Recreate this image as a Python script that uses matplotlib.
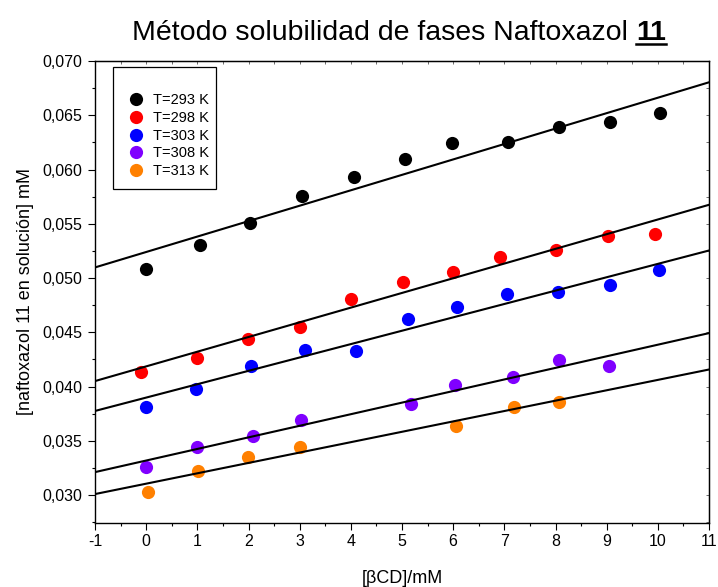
import numpy as np
import matplotlib
matplotlib.use('Agg')
import matplotlib.pyplot as plt
from matplotlib.ticker import MultipleLocator, FuncFormatter
from matplotlib.patches import Rectangle
from matplotlib.lines import Line2D

plt.rcParams['font.family'] = ['Liberation Sans', 'DejaVu Sans']

labels = ['T=293 K', 'T=298 K', 'T=303 K', 'T=308 K', 'T=313 K']
colors = ['#000000', '#ff0000', '#0000ff', '#8000ff', '#ff8000']

x_293 = [0.0, 1.05, 2.02, 3.04, 4.07, 5.05, 5.97, 7.08, 8.06, 9.06, 10.04]
y_293 = [0.0508, 0.0530, 0.0551, 0.0576, 0.0593, 0.0610, 0.0624, 0.0625, 0.0639, 0.0644, 0.0652]

x_298 = [-0.1, 1.0, 1.99, 3.0, 4.0, 5.02, 6.0, 6.92, 8.0, 9.03, 9.94]
y_298 = [0.0413, 0.0426, 0.0444, 0.0455, 0.0481, 0.0496, 0.0506, 0.0519, 0.0526, 0.0539, 0.0541]

x_303 = [-0.01, 0.97, 2.04, 3.11, 4.1, 5.11, 6.08, 7.05, 8.05, 9.07, 10.03]
y_303 = [0.0381, 0.0398, 0.0419, 0.0434, 0.0433, 0.0462, 0.0473, 0.0485, 0.0487, 0.0494, 0.0507]

x_308 = [0.0, 0.99, 2.09, 3.02, 5.17, 6.04, 7.16, 8.07, 9.04]
y_308 = [0.0326, 0.0344, 0.0354, 0.0369, 0.0384, 0.0401, 0.0409, 0.0424, 0.0419]

x_313 = [0.04, 1.02, 1.99, 3.01, 6.05, 7.19, 8.07]
y_313 = [0.0303, 0.0322, 0.0335, 0.0344, 0.0364, 0.0381, 0.0386]

series_x = [x_293, x_298, x_303, x_308, x_313]
series_y = [y_293, y_298, y_303, y_308, y_313]

x_range = [-1, 11]
y_range = [0.02745, 0.070]


def fmt_y(v, pos):
    return f'{v:.3f}'.replace('.', ',')


def fmt_x(v, pos):
    return f'{v:g}'


def draw_title(fig, y):
    renderer = fig.canvas.get_renderer()
    fs = 20.5
    t1 = fig.text(0, y, 'Método solubilidad de fases Naftoxazol', fontsize=fs,
                  ha='left', va='baseline')
    t2 = fig.text(0, y, '11', fontsize=fs, fontweight='bold', ha='left', va='baseline')
    w1 = t1.get_window_extent(renderer).width
    w2 = t2.get_window_extent(renderer).width
    wa = fig.text(0, 0, 'a a', fontsize=fs).get_window_extent(renderer).width
    wb = fig.text(0, 0, 'aa', fontsize=fs).get_window_extent(renderer).width
    ws = wa - wb
    fig.texts = [t1, t2]
    W = fig.bbox.width
    center = 399 / W
    total = (w1 + ws + w2) / W
    x0 = center - total / 2
    t1.set_x(x0)
    x2 = x0 + (w1 + ws) / W
    t2.set_x(x2)
    uy = y - 4 / fig.bbox.height
    fig.add_artist(Line2D([x2, x2 + w2 / W], [uy, uy], color='black', lw=1.8,
                          transform=fig.transFigure))


def main():
    fig = plt.figure(figsize=(7.18, 5.87), dpi=100)
    ax = fig.add_axes([95 / 718, 1 - 522.7 / 587, 614 / 718, 461.7 / 587])

    for xs, ys, c, lab in zip(series_x, series_y, colors, labels):
        ax.plot(xs, ys, 'o', color=c, markersize=9.5, markeredgewidth=0, label=lab, zorder=2)
        k, b = np.polyfit(xs, ys, 1)
        xx = np.array(x_range, dtype=float)
        ax.plot(xx, k * xx + b, color='black', lw=1.5, zorder=3)

    ax.set_xlim(x_range)
    ax.set_ylim(y_range)
    ax.xaxis.set_major_locator(MultipleLocator(1))
    ax.xaxis.set_minor_locator(MultipleLocator(0.5))
    ax.yaxis.set_major_locator(MultipleLocator(0.005))
    ax.yaxis.set_minor_locator(MultipleLocator(0.0025))
    ax.xaxis.set_major_formatter(FuncFormatter(fmt_x))
    ax.yaxis.set_major_formatter(FuncFormatter(fmt_y))
    ax.tick_params(which='major', direction='out', length=4.8, width=0.8, labelsize=11.5)
    ax.tick_params(which='minor', direction='out', length=2.4, width=0.8)
    ax.tick_params(axis='x', which='major', pad=3.5)
    ax.tick_params(axis='y', which='major', pad=4.5)
    for s in ax.spines.values():
        s.set_linewidth(1.0)

    top = ax.secondary_xaxis('top')
    top.xaxis.set_major_locator(MultipleLocator(0.5))
    top.tick_params(direction='in', length=2.5, width=0.6, labeltop=False, color='#555555')
    right = ax.secondary_yaxis('right')
    right.yaxis.set_major_locator(MultipleLocator(0.0025))
    right.tick_params(direction='in', length=2.5, width=0.6, labelright=False, color='#555555')

    ax.set_xlabel('[βCD]/mM', fontsize=13, labelpad=15)
    ax.set_ylabel('[naftoxazol 11 en solución] mM', fontsize=13, labelpad=6)

    ax.legend(loc='upper left', bbox_to_anchor=(129 / 718, 1 - 93.5 / 587),
              bbox_transform=fig.transFigure, frameon=False, fontsize=10.5,
              handlelength=1.0, handletextpad=0.62, labelspacing=0.25,
              borderpad=0, borderaxespad=0)
    fig.add_artist(Rectangle((113 / 718, 1 - 189 / 587), 103 / 718, 122 / 587,
                             transform=fig.transFigure, fill=False, edgecolor='black',
                             lw=0.9))

    draw_title(fig, 1 - 40 / 587)
    fig.savefig('out.png', dpi=100)


main()
